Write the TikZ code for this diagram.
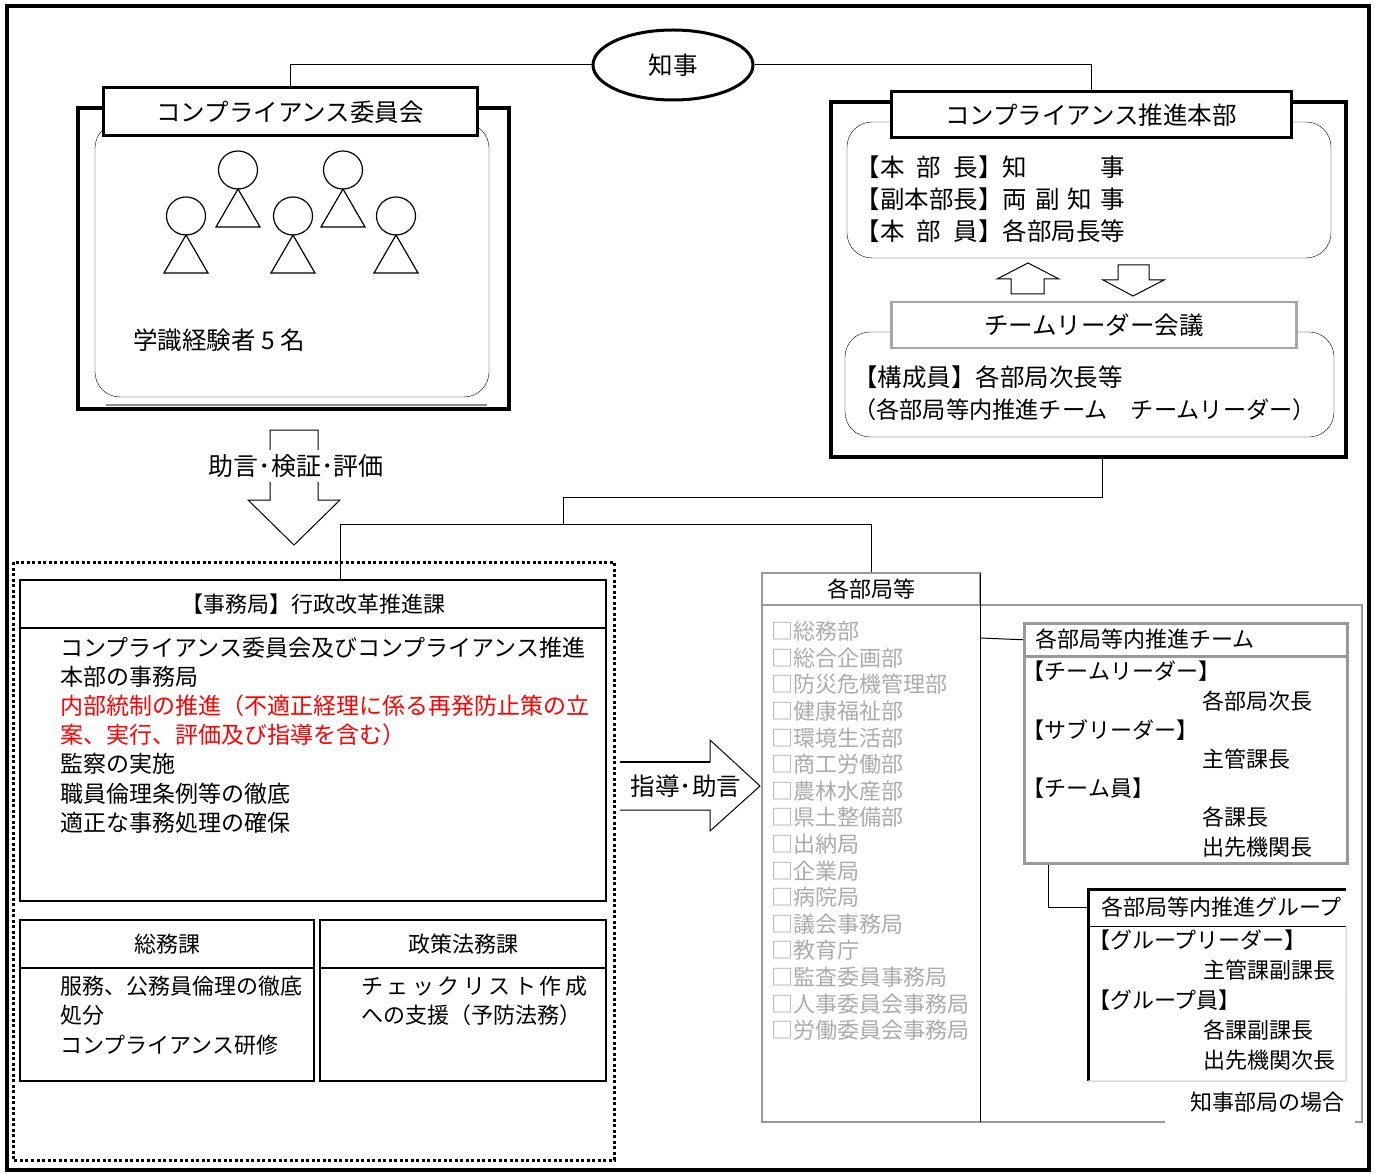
\documentclass[tikz,border=0pt]{standalone}
\usepackage{fontspec}
\setmainfont{Noto Sans CJK JP}
\usepackage{xcolor}
\usetikzlibrary{shapes,positioning}

\tikzset{
  f25/.style={font=\fontsize{25}{32}\selectfont},
  f24/.style={font=\fontsize{24.5}{32}\selectfont},
  f23/.style={font=\fontsize{23}{29.2}\selectfont},
  f22/.style={font=\fontsize{22}{29.2}\selectfont},
  headbox/.style={draw, line width=3pt, fill=white, f24, inner sep=0pt},
  cell/.style={draw, line width=1.2pt, inner sep=0pt},
  graybox/.style={draw=black!40, line width=2.5pt, inner sep=0pt},
  wall/.style={draw, line width=3.5pt, inner sep=0pt},
  txtlines/.style={align=left, anchor=north west, inner sep=0pt},
  blockarrow/.style={draw, line width=1pt, fill=white},
  link/.style={line width=1pt},
}

\begin{document}
\begin{tikzpicture}[x=1pt, y=-1pt]
\useasboundingbox (0,0) rectangle (1377,1174);
\draw[line width=4pt] (7,6) rectangle (1369,1170);

% chiji
\node[ellipse, draw, line width=3pt, minimum width=160, minimum height=70, f24] (chiji) at (673,65) {知事};

% committee
\draw[wall] (78,108) rectangle (509,409);
\draw[black!45, line width=2.5pt] (106,405) -- (487,405);
\draw[rounded corners=25pt] (95,123) rectangle (489,397);
\node[headbox, minimum width=374, minimum height=48] (iinkai) at (290,112) {コンプライアンス委員会};
\foreach \x/\y in {186/216, 238/170, 293/216, 343/170, 396/216}{
  \draw[line width=1.2pt] (\x,\y) ellipse (19.5pt and 19pt);
  \draw[line width=1.2pt] (\x,\y+19) -- (\x-22,\y+57) -- (\x+22,\y+57) -- cycle;
}
\node[anchor=west, f24, inner sep=0pt] (gakushiki) at (133,340) {学識経験者 5 名};

% honbu
\node[wall, minimum width=515, minimum height=355] (honbuwall) at (1088.5,279.5) {};
\draw[rounded corners=25pt] (847,122) rectangle (1331,258);
\node[headbox, minimum width=400, minimum height=46] (honbu) at (1091,115) {コンプライアンス推進本部};
\node[txtlines, f24] (honbuin) at (855.5,156) {【本\hspace{.5em}部\hspace{.5em}長】知\hspace{3em}事\\【副本部長】両\hspace{.33em}副\hspace{.33em}知\hspace{.33em}事\\【本\hspace{.5em}部\hspace{.5em}員】各部局長等};
\draw[blockarrow] (1011,294) -- (1011,279) -- (997,279) -- (1028,263) -- (1059,279) -- (1044,279) -- (1044,294) -- cycle;
\draw[blockarrow] (1118,265) -- (1118,280) -- (1103,280) -- (1133,296) -- (1164,280) -- (1149,280) -- (1149,265) -- cycle;
\draw[rounded corners=25pt] (845,332) rectangle (1334,437);
\node[draw=black!35, line width=2.5pt, fill=white, minimum width=405, minimum height=46, f24, inner sep=0pt] (tlkaigi) at (1094,325) {チームリーダー会議};
\node[txtlines, f24] (tlin) at (853,366) {【構成員】各部局次長等\\\fontsize{23.2}{32}\selectfont（各部局等内推進チーム\hspace{1em}チームリーダー）};

\draw[link] (chiji.west) -| (iinkai.north);
\draw[link] (chiji.east) -| (honbu.north);

% advice arrow
\draw[blockarrow] (270,430) -- (318,430) -- (318,500) -- (340,500) -- (294,545) -- (248,500) -- (270,500) -- cycle;
\node[fill=white, inner sep=0pt, minimum height=32, f25] (jogen) at (296,466) {助言･検証･評価};

% jimukyoku
\draw[line width=3pt, dash pattern=on 3pt off 2.5pt] (13,562) rectangle (614,1160);
\node[cell, minimum width=586, minimum height=48, f22] (jimuhead) at (313,604) {【事務局】行政改革推進課};
\node[cell, minimum width=586, minimum height=273] (jimubody) at (313,764.5) {};
\node[txtlines, f23] (jimutxt) at (60,636.5) {コンプライアンス委員会及びコンプライアンス推進\\本部の事務局\\\textcolor{red}{内部統制の推進（不適正経理に係る再発防止策の立}\\\textcolor{red}{案、実行、評価及び指導を含む）}\\監察の実施\\職員倫理条例等の徹底\\適正な事務処理の確保};
\node[cell, minimum width=294, minimum height=48, f22] (soumu) at (167,944) {総務課};
\node[cell, minimum width=294, minimum height=113] (soumubody) at (167,1024.5) {};
\node[cell, minimum width=286, minimum height=48, f22] (seisaku) at (463,944) {政策法務課};
\node[cell, minimum width=286, minimum height=113] (seisakubody) at (463,1024.5) {};
\node[txtlines, f22] (soumutxt) at (60,976) {服務、公務員倫理の徹底\\処分\\コンプライアンス研修};
\node[txtlines, f22] (seisakutxt) at (361,976) {{\addfontfeature{LetterSpace=16}チェックリスト作成}\\への支援（予防法務）};

% guidance arrow
\draw[blockarrow] (620,762) -- (710,762) -- (710,740) -- (760,786) -- (710,831) -- (710,810) -- (620,810);
\draw[line width=2.5pt] (620,762) -- (710,762);
\node[fill=white, inner sep=1pt, f24] (shido) at (686,786) {指導･助言};

% kakubu
\node[graybox, minimum width=218, minimum height=32, f22] (kakubu) at (871,589) {各部局等};
\draw[black!40, line width=2.5pt] (980,605) -- (1362,605) -- (1362,1122) -- (1355,1122);
\draw[black!40, line width=2.5pt] (762,605) -- (762,1122) -- (1165,1122);
\draw[line width=0.8pt] (980,573) -- (980,1122);
\coordinate (listedge) at (980,638);
\node[txtlines, font=\fontsize{22}{26.6}\selectfont, text=black!33] (bulist) at (771,621) {□総務部\\□総合企画部\\□防災危機管理部\\□健康福祉部\\□環境生活部\\□商工労働部\\□農林水産部\\□県土整備部\\□出納局\\□企業局\\□病院局\\□議会事務局\\□教育庁\\□監査委員事務局\\□人事委員会事務局\\□労働委員会事務局};

\draw[link] ([xshift=13.5pt]honbuwall.south) -- ++(0,39) -| (563,525) coordinate (split);
\draw[link] ([xshift=27pt]jimuhead.north) -- ++(0,-55) -| (kakubu.north);

% team
\node[graybox, minimum width=323, minimum height=33, anchor=north west] (teamhead) at (1023,622) {};
\node[anchor=west, f22, inner sep=0pt] (teamtitle) at (1035,639) {各部局等内推進チーム};
\node[graybox, minimum width=323, minimum height=207, anchor=north west] (teambody) at (1023,655) {};
\draw[link] (listedge) -- (teamhead.west);
\node[txtlines, f22] (teamtxt) at (1022.5,661) {【チームリーダー】\\\hspace*{180pt}各部局次長\\【サブリーダー】\\\hspace*{180pt}主管課長\\【チーム員】\\\hspace*{180pt}各課長\\\hspace*{180pt}出先機関長};

% group
\node[minimum width=258, minimum height=37, anchor=north west, inner sep=0pt] (grouphead) at (1088,889) {};
\node[anchor=west, f22, inner sep=0pt] (grouptitle) at (1101,907) {各部局等内推進グループ};
\draw[line width=3pt] (1088,1081) -- (grouphead.north west) -- (grouphead.north east);
\draw[line width=1.5pt] (grouphead.south west) -- (grouphead.south east);
\draw[black!15, line width=1.5pt] (grouphead.south east) -- (1346,1081) -- (1088,1081);
\draw[link] ([xshift=25pt]teambody.south west) |- (grouphead.west);
\node[txtlines, font=\fontsize{22}{30}\selectfont] (grouptxt) at (1088,930) {【グループリーダー】\\\hspace*{115pt}主管課副課長\\【グループ員】\\\hspace*{115pt}各課副課長\\\hspace*{115pt}出先機関次長};
\node[anchor=east, f22, inner sep=0pt] (chijibukyoku) at (1345,1102) {知事部局の場合};
\end{tikzpicture}
\end{document}
